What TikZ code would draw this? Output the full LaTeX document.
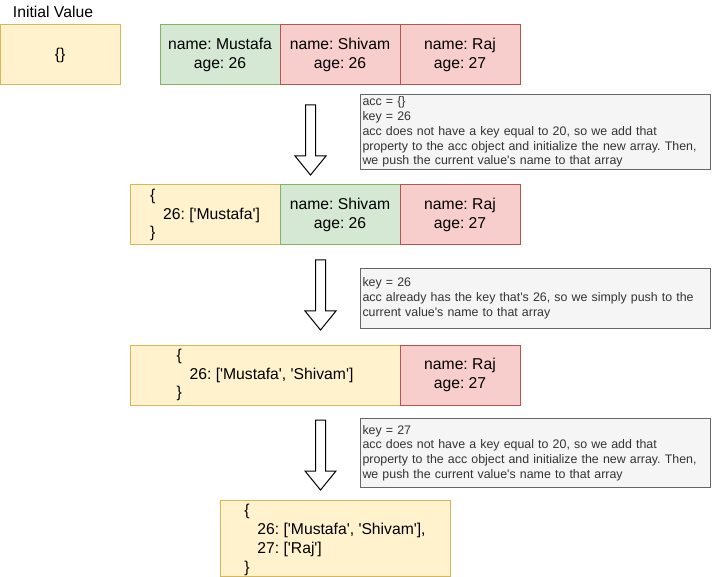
\documentclass[tikz,border=0pt]{standalone}
\usepackage{fontspec}
\newfontfamily\drawfont{Liberation Sans}
\usetikzlibrary{positioning}
\frenchspacing

\definecolor{yfill}{HTML}{FFF2CC}
\definecolor{yline}{HTML}{D6B656}
\definecolor{gfill}{HTML}{D5E8D4}
\definecolor{gline}{HTML}{82B366}
\definecolor{rfill}{HTML}{F8CECC}
\definecolor{rline}{HTML}{B85450}
\definecolor{nfill}{HTML}{F5F5F5}
\definecolor{nline}{HTML}{666666}
\definecolor{ntext}{HTML}{333333}

\newcommand{\boxfont}{\drawfont\fontsize{15.7}{18.5}\selectfont}
\newcommand{\lastfont}{\drawfont\fontsize{15.7}{19}\selectfont}
\newcommand{\notefont}{\drawfont\fontsize{12.4}{14.8}\selectfont}
\newcommand{\ind}{\hspace*{13pt}}

\tikzset{
    cell/.style={draw, line width=1pt, minimum height=60pt, inner sep=0pt, outer sep=0pt, align=center, font=\boxfont},
    yellowcell/.style={cell, fill=yfill, draw=yline, align=left},
    greencell/.style={cell, fill=gfill, draw=gline},
    redcell/.style={cell, fill=rfill, draw=rline},
    notebox/.style={draw=nline, fill=nfill, text=ntext, line width=1pt, anchor=north west, text width=346pt, inner xsep=2pt, inner ysep=0pt, align=left, font=\notefont},
    blockarrow/.style={draw=black, fill=white, line width=1pt, line join=miter},
}

\begin{document}
\begin{tikzpicture}[x=1pt,y=-1pt]
    \useasboundingbox (0,0) rectangle (712,577);

    % start
    \node[font=\boxfont] (initlabel) at (53,12) {Initial Value};
    \node[yellowcell, minimum width=120pt, anchor=north west] (init) at (0,25) {\{\}};
    \node[greencell, minimum width=120pt, anchor=north west] (mustafa) at (160,25) {name: Mustafa\\age: 26};
    \node[redcell, minimum width=120pt, right=0pt of mustafa] (shivam) {name: Shivam\\age: 26};
    \node[redcell, minimum width=120pt, right=0pt of shivam] (raj) {name: Raj\\age: 27};

    \node[notebox, minimum height=75pt] (note1) at (360,94) {acc = \{\}\\key = 26\\acc does not have a key equal to 20, so we add that\\property to the acc object and initialize the new array. Then,\\we push the current value's name to that array};
    \filldraw[blockarrow] (305.5,105) -- (315.5,105) -- (315.5,156) -- (326,156) -- (310.5,175) -- (295,156) -- (305.5,156) -- cycle;

    % step 1
    \node[yellowcell, minimum width=150pt, anchor=north west] (acc1) at (130,185) {\{\\\ind 26: ['Mustafa']\\\}};
    \node[greencell, minimum width=120pt, right=0pt of acc1] (shivam1) {name: Shivam\\age: 26};
    \node[redcell, minimum width=120pt, right=0pt of shivam1] (raj1) {name: Raj\\age: 27};

    \node[notebox, minimum height=60pt] (note2) at (360,268) {key = 26\\acc already has the key that's 26, so we simply push to the\\current value's name to that array};
    \filldraw[blockarrow] (315.5,260) -- (325.5,260) -- (325.5,311) -- (336,311) -- (320.5,330) -- (305,311) -- (315.5,311) -- cycle;

    % step 2
    \node[yellowcell, minimum width=270pt, anchor=north west] (acc2) at (130,345) {\{\\\ind 26: ['Mustafa', 'Shivam']\\\}};
    \node[redcell, minimum width=120pt, right=0pt of acc2] (raj2) {name: Raj\\age: 27};

    \node[notebox, minimum height=69pt] (note3) at (360,418) {key = 27\\acc does not have a key equal to 20, so we add that\\property to the acc object and initialize the new array. Then,\\we push the current value's name to that array};
    \filldraw[blockarrow] (315.5,420) -- (325.5,420) -- (325.5,471) -- (336,471) -- (320.5,490) -- (305,471) -- (315.5,471) -- cycle;

    % result
    \node[yellowcell, minimum width=230pt, minimum height=76pt, anchor=north west,
        label={[font=\lastfont, align=left, yshift=-2pt]center:{\{\\\ind 26: ['Mustafa', 'Shivam'],\\\ind 27: ['Raj']\\\}}}] (acc3) at (220,500) {};
\end{tikzpicture}
\end{document}
